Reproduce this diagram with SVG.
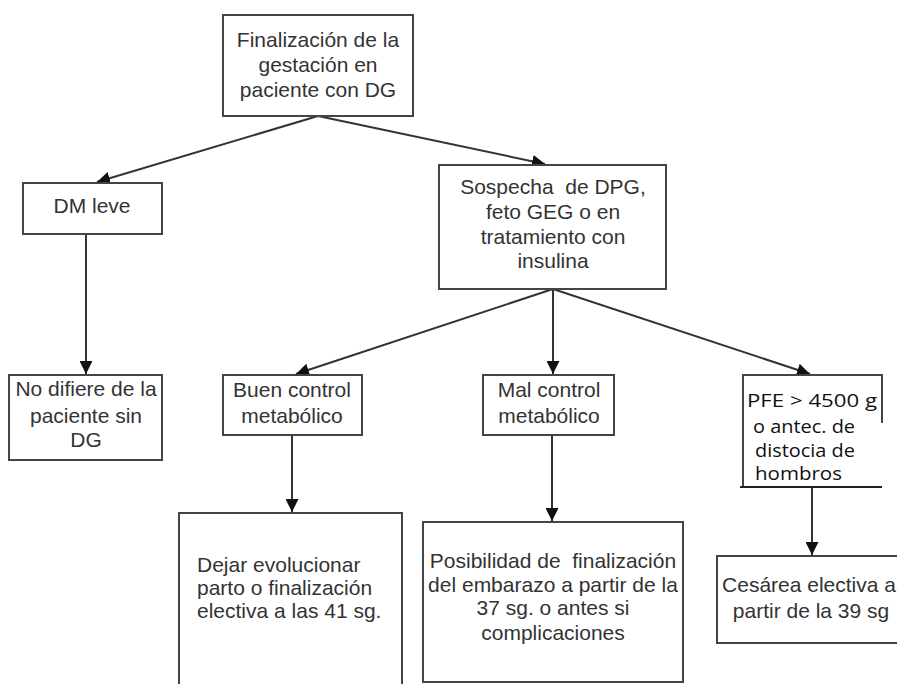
<svg xmlns="http://www.w3.org/2000/svg" width="897" height="684" viewBox="0 0 897 684">
<style>
.box{fill:#fff;stroke:#444;stroke-width:2}
.t{font-family:"Liberation Sans",Arial,sans-serif;font-size:21px;fill:#333}
.c{text-anchor:middle}
.k{font-family:"Open Sans","Noto Sans",sans-serif;font-size:18px;fill:#111}
.ln{stroke:#333;stroke-width:2;fill:none}
</style>
<defs>
<marker id="ah" viewBox="0 0 10 10" refX="10" refY="5" markerWidth="6.5" markerHeight="6.5" markerUnits="strokeWidth" orient="auto">
<path d="M0,0 L10,5 L0,10 z" fill="#111"/>
</marker>
</defs>
<rect width="897" height="684" fill="#fff"/>
<g id="connectors">
<line class="ln" x1="318" y1="116" x2="97" y2="182" marker-end="url(#ah)"/>
<line class="ln" x1="318" y1="116" x2="545" y2="164" marker-end="url(#ah)"/>
<line class="ln" x1="86" y1="234" x2="86" y2="374" marker-end="url(#ah)"/>
<line class="ln" x1="553" y1="289" x2="296" y2="374" marker-end="url(#ah)"/>
<line class="ln" x1="553" y1="289" x2="553" y2="374" marker-end="url(#ah)"/>
<line class="ln" x1="553" y1="289" x2="810" y2="374" marker-end="url(#ah)"/>
<line class="ln" x1="292" y1="435" x2="292" y2="512" marker-end="url(#ah)"/>
<line class="ln" x1="552" y1="435" x2="552" y2="521" marker-end="url(#ah)"/>
<line class="ln" x1="812" y1="487" x2="812" y2="555" marker-end="url(#ah)"/>
</g>
<g id="n-top">
<rect class="box" x="223" y="15" width="190" height="101"/>
<text class="t c" x="318" y="47">Finalización de la</text>
<text class="t c" x="318" y="72">gestación en</text>
<text class="t c" x="318" y="97">paciente con DG</text>
</g>
<g id="n-dmleve">
<rect class="box" x="23" y="183" width="139" height="51"/>
<text class="t c" x="92" y="213">DM leve</text>
</g>
<g id="n-sospecha">
<rect class="box" x="439" y="165" width="227" height="124"/>
<text class="t c" x="553" y="194">Sospecha&#160; de DPG,</text>
<text class="t c" x="553" y="219">feto GEG o en</text>
<text class="t c" x="553" y="244">tratamiento con</text>
<text class="t c" x="553" y="268">insulina</text>
</g>
<g id="n-nodifiere">
<rect class="box" x="9" y="375" width="153" height="85"/>
<text class="t c" x="86" y="396">No difiere de la</text>
<text class="t c" x="86" y="423">paciente sin</text>
<text class="t c" x="86" y="447">DG</text>
</g>
<g id="n-buen">
<rect class="box" x="223" y="375" width="139" height="60"/>
<text class="t c" x="292" y="397">Buen control</text>
<text class="t c" x="292" y="423">metabólico</text>
</g>
<g id="n-mal">
<rect class="box" x="483" y="375" width="131" height="60"/>
<text class="t c" x="549" y="397">Mal control</text>
<text class="t c" x="549" y="423">metabólico</text>
</g>
<g id="n-pfe">
<path d="M743,487 V375 H882 V423" class="box" fill="none"/>
<line x1="740" y1="487" x2="882" y2="487" stroke="#222" stroke-width="2"/>
<text class="k" x="747" y="407" textLength="130" lengthAdjust="spacingAndGlyphs">PFE &gt; 4500 g</text>
<text class="k" x="753" y="433" textLength="102" lengthAdjust="spacingAndGlyphs">o antec. de</text>
<text class="k" x="755" y="457" textLength="100" lengthAdjust="spacingAndGlyphs">distocia de</text>
<text class="k" x="755" y="480" textLength="87" lengthAdjust="spacingAndGlyphs">hombros</text>
</g>
<g id="n-dejar">
<rect class="box" x="179" y="513" width="223" height="190"/>
<text class="t" x="197" y="572">Dejar evolucionar</text>
<text class="t" x="197" y="595">parto o finalización</text>
<text class="t" x="197" y="618">electiva a las 41 sg.</text>
</g>
<g id="n-posibilidad">
<rect class="box" x="423" y="522" width="260" height="160"/>
<text class="t c" x="553" y="568">Posibilidad de&#160; finalización</text>
<text class="t c" x="553" y="592">del embarazo a partir de la</text>
<text class="t c" x="553" y="615">37 sg. o antes si</text>
<text class="t c" x="553" y="640">complicaciones</text>
</g>
<g id="n-cesarea">
<rect class="box" x="717" y="556" width="200" height="87"/>
<text class="t c" x="809" y="592">Cesárea electiva a</text>
<text class="t c" x="811" y="618">partir de la 39 sg</text>
</g>
</svg>
